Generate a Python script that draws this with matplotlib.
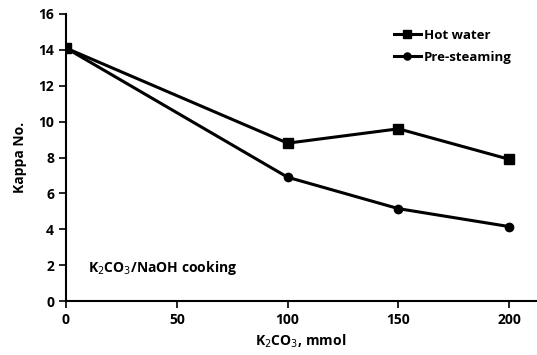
import matplotlib
matplotlib.use("Agg")
import matplotlib.pyplot as plt

plt.rcParams['font.family'] = ['Open Sans', 'DejaVu Sans']

k2co3 = [0, 100, 150, 200]
hot_water = [14.1, 8.8, 9.6, 7.9]
pre_steaming = [14.1, 6.9, 5.15, 4.15]
xticks = [0, 50, 100, 150, 200]
yticks = [0, 2, 4, 6, 8, 10, 12, 14, 16]

fig = plt.figure(figsize=(5.37, 3.55), dpi=100)
ax = fig.add_axes([0.1229, 0.152, 0.875, 0.8086])

ax.plot(k2co3, hot_water, color='black', lw=2.2, marker='s', ms=7, label='Hot water')
ax.plot(k2co3, pre_steaming, color='black', lw=2.2, marker='o', ms=6, label='Pre-steaming')

ax.set_xlim(0, 212)
ax.set_ylim(0, 16)
ax.set_xticks(xticks)
ax.set_yticks(yticks)
for s in ['top', 'right']:
    ax.spines[s].set_visible(False)
for s in ['left', 'bottom']:
    ax.spines[s].set_linewidth(1.5)
ax.tick_params(direction='out', length=5, width=1.2, labelsize=10)
for lab in ax.get_xticklabels() + ax.get_yticklabels():
    lab.set_fontweight('bold')

ax.set_xlabel('K$_2$CO$_3$, mmol', fontsize=10, fontweight='bold', labelpad=4)
ax.set_ylabel('Kappa No.', fontsize=10, fontweight='bold', labelpad=8)
ax.text(10, 1.6, 'K$_2$CO$_3$/NaOH cooking', fontsize=10, fontweight='bold')

leg = ax.legend(loc='upper left', bbox_to_anchor=(0.672, 0.99), frameon=False,
                fontsize=9.5, handlelength=2.1, handletextpad=0.2, labelspacing=0.7,
                markerscale=0.85)
for t in leg.get_texts():
    t.set_fontweight('bold')

fig.savefig('out.png', dpi=100)
